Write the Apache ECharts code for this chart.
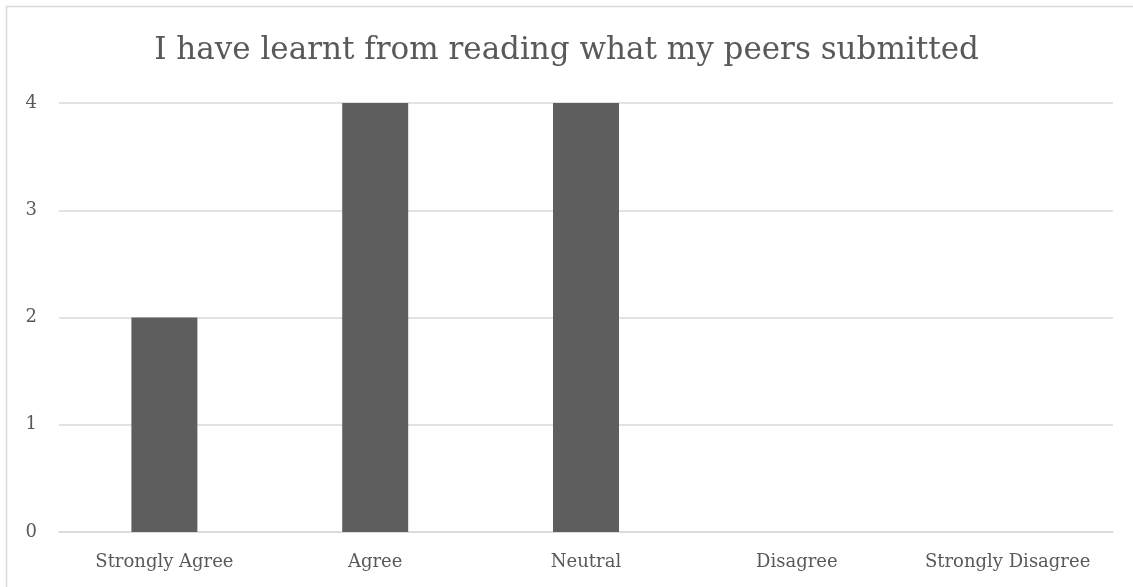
<!DOCTYPE html>
<html>
<head>
<meta charset="utf-8">
<script src="https://cdn.jsdelivr.net/npm/echarts@6/dist/echarts.min.js"></script>
<style>
  html, body { margin: 0; padding: 0; background: #fff; }
  #chart { width: 1133px; height: 587px; }
</style>
</head>
<body>
<div id="chart"></div>
<script>
// Survey responses for one statement
const titleText = 'I have learnt from reading what my peers submitted';
const categories = ['Strongly Agree', 'Agree', 'Neutral', 'Disagree', 'Strongly Disagree'];
const responses = [2, 4, 4, 0, 0];
const yTicks = [0, 1, 2, 3, 4];

const serif = '"DejaVu Serif", "Liberation Serif", serif';
const textColor = '#595959';

const chart = echarts.init(document.getElementById('chart'), null, { renderer: 'canvas' });
chart.setOption({
  animation: false,
  backgroundColor: '#fff',
  title: {
    text: titleText,
    left: 'center',
    top: 30,
    textStyle: { fontFamily: serif, fontSize: 31, fontWeight: 'normal', color: textColor }
  },
  grid: { left: 59, right: 20, top: 103, bottom: 55, containLabel: false },
  xAxis: {
    type: 'category',
    data: categories,
    axisLine: { show: true, lineStyle: { color: '#d9d9d9', width: 1.5 } },
    axisTick: { show: false },
    axisLabel: { interval: 0, hideOverlap: false, fontFamily: serif, fontSize: 18, color: textColor, margin: 21 }
  },
  yAxis: {
    type: 'value',
    min: yTicks[0],
    max: yTicks[yTicks.length - 1],
    interval: 1,
    axisLine: { show: false },
    axisTick: { show: false },
    splitLine: { lineStyle: { color: '#d9d9d9', width: 1.5 } },
    axisLabel: { fontFamily: serif, fontSize: 18, color: textColor, margin: 22 }
  },
  series: [{
    type: 'bar',
    data: responses,
    barWidth: '31.3%',
    itemStyle: { color: '#5e5e5e' }
  }],
  graphic: [{
    type: 'polyline',
    shape: { points: [[6.5, 587], [6.5, 6.5], [1133, 6.5]] },
    style: { stroke: '#d9d9d9', lineWidth: 1.5, fill: null },
    silent: true
  }]
});
</script>
</body>
</html>
